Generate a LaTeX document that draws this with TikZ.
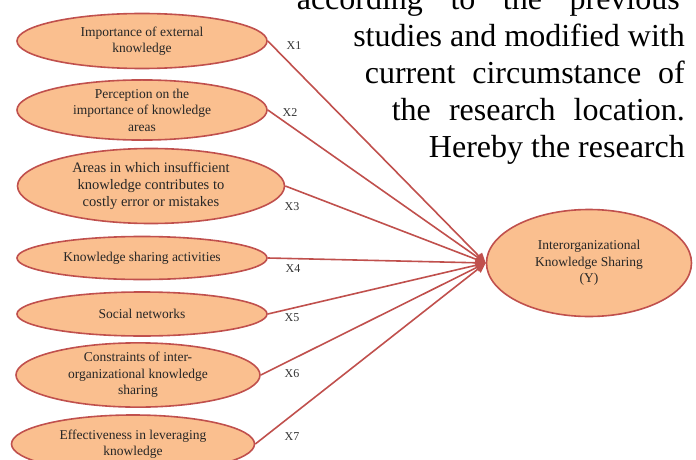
\documentclass[tikz,border=0pt]{standalone}
\usepackage{fontspec}
\setmainfont{Liberation Serif}
\usetikzlibrary{shapes.geometric,arrows.meta}
\definecolor{factorfill}{HTML}{FABF8F}
\definecolor{factorline}{HTML}{C0504D}

\begin{document}
\begin{tikzpicture}[x=1pt, y=-1pt,
    factor/.style={ellipse, draw=factorline, line width=1.6pt, fill=factorfill, inner sep=0pt, align=center, text=black!85, font=\fontsize{13.5}{16.5}\selectfont},
    link/.style={draw=factorline, line width=1.6pt, -{Triangle[length=10pt,width=9pt]}},
    lab/.style={text=black!80, font=\fontsize{12}{14}\selectfont},
    para/.style={anchor=base east, inner sep=0pt, font=\fontsize{32}{37}\selectfont}]
    \useasboundingbox (0,0) rectangle (696,460);

    \node[factor, minimum width=250, minimum height=55] (x1) at (142, 41) {Importance of external\\knowledge};
    \node[factor, minimum width=250, minimum height=55] (x2) at (142, 110) {Perception on the\\importance of knowledge\\areas};
    \node[factor, minimum width=267, minimum height=75, font=\fontsize{14.5}{17}\selectfont] (x3) at (151, 186) {Areas in which insufficient\\knowledge contributes to\\costly error or mistakes};
    \node[factor, minimum width=250, minimum height=43] (x4) at (142, 258) {Knowledge sharing activities};
    \node[factor, minimum width=250, minimum height=44] (x5) at (142, 314) {Social networks};
    \node[factor, minimum width=244, minimum height=57] (x6) at (138, 375) {Constraints of inter-\\organizational knowledge\\sharing};
    \node[factor, minimum width=243, minimum height=58] (x7) at (133, 444) {Effectiveness in leveraging\\knowledge};
    \node[factor, minimum width=205, minimum height=107] (y) at (589, 263) {Interorganizational\\Knowledge Sharing\\(Y)};

    \node[lab] (l1) at (294, 46) {X1};
    \node[lab] (l2) at (290, 113) {X2};
    \node[lab] (l3) at (292, 207) {X3};
    \node[lab] (l4) at (293, 269) {X4};
    \node[lab] (l5) at (292, 318) {X5};
    \node[lab] (l6) at (292, 374) {X6};
    \node[lab] (l7) at (292, 437) {X7};

    \node[para] (p1) at (680, 10) {\makebox[383pt][s]{according to the previous}};
    \node[para] (p2) at (685, 47) {studies and modified with};
    \node[para] (p3) at (685, 83) {\makebox[320pt][s]{current circumstance of}};
    \node[para] (p4) at (685, 120) {\makebox[293pt][s]{the research location.}};
    \node[para] (p5) at (685, 157) {Hereby the research};

    \draw[link] (x1.east) -- (y.west);
    \draw[link] (x2.east) -- (y.west);
    \draw[link] (x3.east) -- (y.west);
    \draw[link] (x4.east) -- (y.west);
    \draw[link] (x5.east) -- (y.west);
    \draw[link] (x6.east) -- (y.west);
    \draw[link] (x7.east) -- (y.west);
\end{tikzpicture}
\end{document}
